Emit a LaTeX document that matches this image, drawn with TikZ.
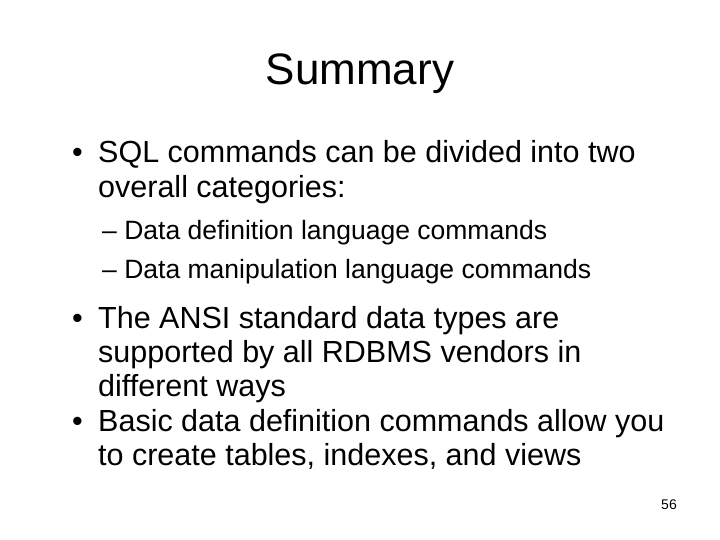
\documentclass[tikz,border=0pt]{standalone}
\usepackage{fontspec}
\setmainfont{Liberation Sans}
\begin{document}
\begin{tikzpicture}[x=1pt,y=-1pt,
  t/.style={anchor=base west,inner sep=0pt,font=\fontsize{30.5}{30.5}\selectfont},
  s/.style={anchor=base west,inner sep=0pt,font=\fontsize{26.5}{26.5}\selectfont}]
\useasboundingbox (0,0) rectangle (720,540);
\node[anchor=base,inner sep=0pt,font=\fontsize{44}{44}\selectfont] (title) at (360,85) {Summary};
\node[t] (b1) at (72,163) {•};
\node[t] (l1) at (98,163) {SQL commands can be divided into two};
\node[t] (l2) at (98,197) {overall categories:};
\node[s] (s1) at (102,240) {– Data definition language commands};
\node[s] (s2) at (102,278) {– Data manipulation language commands};
\node[t] (b2) at (72,328) {•};
\node[t] (l3) at (98,328) {The ANSI standard data types are};
\node[t] (l4) at (98,362) {supported by all RDBMS vendors in};
\node[t] (l5) at (98,396) {different ways};
\node[t] (b3) at (72,431) {•};
\node[t] (l6) at (98,431) {Basic data definition commands allow you};
\node[t] (l7) at (98,465) {to create tables, indexes, and views};
\node[anchor=base east,inner sep=0pt,font=\fontsize{14}{14}\selectfont] (pg) at (677,509) {56};
\end{tikzpicture}
\end{document}
